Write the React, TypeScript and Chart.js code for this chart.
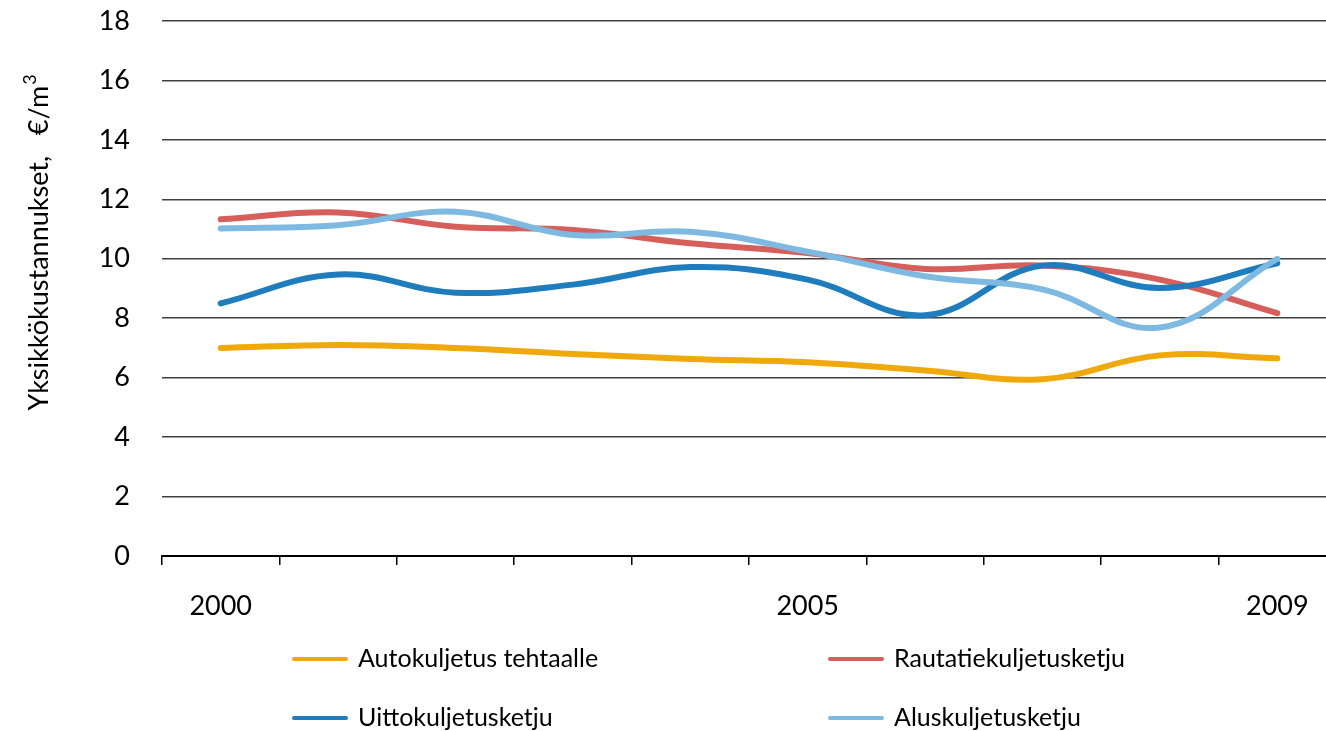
import React, { useEffect, useRef } from "react";
import { Chart, registerables } from "chart.js";

Chart.register(...registerables);

const years = ["2000", "2001", "2002", "2003", "2004", "2005", "2006", "2007", "2008", "2009"];
const shownYearLabels = ["2000", "2005", "2009"];

const autokuljetus = [7.0, 7.1, 7.0, 6.8, 6.63, 6.52, 6.24, 5.95, 6.75, 6.65];
const rautatie = [11.33, 11.56, 11.08, 10.97, 10.52, 10.19, 9.66, 9.77, 9.3, 8.17];
const uitto = [8.5, 9.47, 8.86, 9.13, 9.72, 9.3, 8.1, 9.77, 9.02, 9.85];
const alus = [11.02, 11.13, 11.58, 10.8, 10.91, 10.24, 9.41, 8.97, 7.69, 10.0];

const seriesNames = ["Autokuljetus tehtaalle", "Rautatiekuljetusketju", "Uittokuljetusketju", "Aluskuljetusketju"];
const seriesColors = ["#F0A90C", "#D65F5B", "#1F7DBD", "#7DB9E1"];
const seriesOrder = [3, 2, 1, 0];

const yMin = 0;
const yMax = 18;
const yStep = 2;
const yTitleMain = "Yksikkökustannukset,   €/m";
const yTitleSup = "3";

const FONT = "Lato, 'Open Sans', sans-serif";

const yTitlePlugin = {
  id: "yTitleCustom",
  afterDraw(chart: any) {
    const { ctx, chartArea } = chart;
    ctx.save();
    ctx.translate(chartArea.left - 124, (chartArea.top + chartArea.bottom) / 2 - 46);
    ctx.rotate(-Math.PI / 2);
    ctx.fillStyle = "#000";
    ctx.textBaseline = "alphabetic";
    ctx.textAlign = "left";
    ctx.font = `27px ${FONT}`;
    const wMain = ctx.measureText(yTitleMain).width;
    ctx.font = `18px ${FONT}`;
    const wSup = ctx.measureText(yTitleSup).width;
    const start = -(wMain + wSup + 1) / 2;
    ctx.font = `27px ${FONT}`;
    ctx.fillText(yTitleMain, start, 10);
    ctx.font = `18px ${FONT}`;
    ctx.fillText(yTitleSup, start + wMain + 1, -2);
    ctx.restore();
  },
};

const gridLegendPlugin = {
  id: "gridLegend",
  afterDraw(chart: any) {
    const { ctx } = chart;
    const cols = [292, 828];
    const rows = [659, 718];
    chart.data.datasets.forEach((d: any, i: number) => {
      const x = cols[i % 2];
      const y = rows[Math.floor(i / 2)];
      ctx.save();
      ctx.strokeStyle = d.borderColor;
      ctx.lineWidth = 4;
      ctx.lineCap = "round";
      ctx.beginPath();
      ctx.moveTo(x + 2, y);
      ctx.lineTo(x + 54, y);
      ctx.stroke();
      ctx.fillStyle = "#000";
      ctx.font = `25px ${FONT}`;
      ctx.textBaseline = "middle";
      ctx.textAlign = "left";
      ctx.fillText(d.label, x + 66, y);
      ctx.restore();
    });
  },
};

export default function App() {
  const canvasRef = useRef<HTMLCanvasElement | null>(null);

  useEffect(() => {
    const canvas = canvasRef.current;
    if (!canvas) return;
    const allSeries = [autokuljetus, rautatie, uitto, alus];
    const chart = new Chart(canvas, {
      type: "line",
      data: {
        labels: years,
        datasets: allSeries.map((values, i) => ({
          label: seriesNames[i],
          data: values,
          borderColor: seriesColors[i],
          backgroundColor: seriesColors[i],
          borderWidth: 6,
          pointRadius: 0,
          pointHoverRadius: 0,
          tension: 0.4,
          fill: false,
          order: seriesOrder[i],
          borderCapStyle: "round" as const,
          borderJoinStyle: "round" as const,
        })),
      },
      options: {
        responsive: false,
        animation: false,
        devicePixelRatio: 1,
        layout: { padding: { top: 21, right: 10, bottom: 0, left: 0 } },
        plugins: {
          legend: { display: false },
          tooltip: { enabled: false },
          title: { display: false },
        },
        scales: {
          x: {
            type: "category",
            offset: true,
            grid: {
              display: true,
              offset: true,
              drawOnChartArea: false,
              drawTicks: true,
              tickLength: 9,
              color: "#000",
              lineWidth: 1.5,
            },
            border: { display: true, color: "#000", width: 2 },
            ticks: {
              autoSkip: false,
              maxRotation: 0,
              minRotation: 0,
              padding: 25,
              color: "#000",
              font: { family: FONT, size: 27 },
              callback: (_v: any, i: number) => (shownYearLabels.includes(years[i]) ? years[i] : ""),
            },
            afterFit: (scale: any) => {
              scale.height = 175;
              scale.paddingLeft = 0;
              scale.paddingRight = 0;
            },
          },
          y: {
            min: yMin,
            max: yMax,
            grid: {
              display: true,
              drawTicks: false,
              color: "#404040",
              lineWidth: 1.5,
            },
            border: { display: false },
            ticks: {
              stepSize: yStep,
              padding: 32,
              color: "#000",
              font: { family: FONT, size: 27 },
            },
            afterFit: (scale: any) => {
              scale.width = 162;
              scale.paddingTop = 0;
              scale.paddingBottom = 0;
            },
          },
        },
      },
      plugins: [yTitlePlugin, gridLegendPlugin],
    });
    return () => chart.destroy();
  }, []);

  return (
    <div
      style={{
        position: "fixed",
        left: 0,
        top: 0,
        width: 1326,
        height: 731,
        overflow: "hidden",
        background: "#fff",
      }}
    >
      <canvas ref={canvasRef} width={1346} height={731} style={{ width: 1346, height: 731, display: "block" }} />
    </div>
  );
}
